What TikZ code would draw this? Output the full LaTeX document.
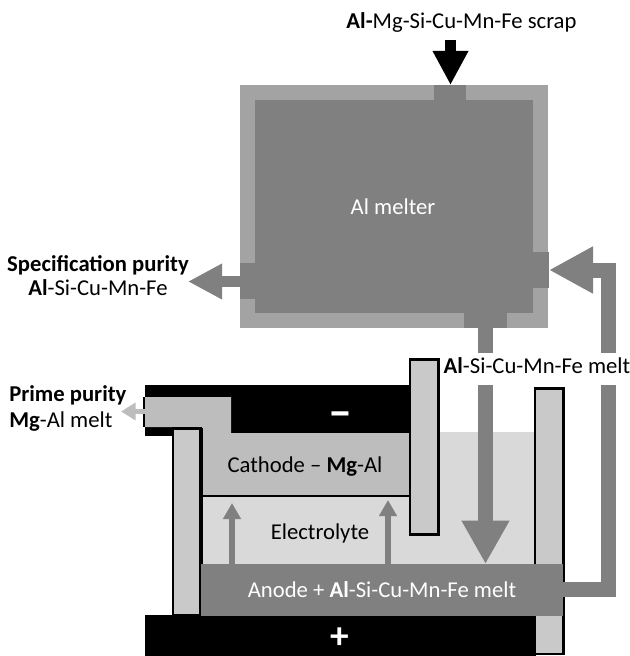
\documentclass[tikz,border=0pt]{standalone}
\usepackage{fontspec}
\setmainfont{Carlito}
\usetikzlibrary{arrows.meta}
\definecolor{melt}{gray}{0.50}
\definecolor{wall}{gray}{0.64}
\definecolor{cath}{gray}{0.74}
\definecolor{barg}{gray}{0.79}
\definecolor{elec}{gray}{0.85}
\tikzset{
  x=0.75pt,y=-0.75pt,
  lbl/.style={anchor=base,inner sep=0pt,font=\fontsize{17}{20}\selectfont},
  lblw/.style={lbl,text=white},
  barbox/.style={fill=barg,draw=black,line width=1.6pt,miter limit=10},
  flow/.style={draw=melt,line width=11.25pt,line cap=butt},
  bigtip/.style={-{Triangle[length=32.6pt,width=33.7pt]}},
  retip/.style={-{Triangle[length=33pt,width=33pt]}},
  lefttip/.style={-{Triangle[length=25.5pt,width=25pt]}},
  smallup/.style={draw=melt,line width=4.4pt,-{Triangle[length=12pt,width=12.8pt]}},
}
\begin{document}
\begin{tikzpicture}
\useasboundingbox (0,0) rectangle (630,656);
% named points for the flows
\coordinate (scrapS) at (450.5,40);
\coordinate (scrapE) at (450.5,85);
\coordinate (outS) at (240,281.5);
\coordinate (outE) at (188,281.5);
\coordinate (meltA) at (485.5,328);
\coordinate (meltB) at (485.5,353);
\coordinate (meltC) at (485.5,385);
\coordinate (meltD) at (485.5,564);
\coordinate (retA) at (563,589.5);
\coordinate (retB) at (608,589.5);
\coordinate (retC) at (608,385);
\coordinate (retD) at (608,353);
\coordinate (retE) at (608,270);
\coordinate (retF) at (549,270);
\coordinate (ionAS) at (232,564);
\coordinate (ionAE) at (232,503);
\coordinate (ionBS) at (388,564);
\coordinate (ionBE) at (388,500);
\coordinate (primeS) at (145,411.5);
\coordinate (primeE) at (121,411.5);
% melter
\fill[wall] (240,85) rectangle (548,328);
\fill[melt] (255,100) rectangle (533,313);
\fill[melt] (434,85) rectangle (466,100);
\fill[melt] (240,263) rectangle (255,299);
\fill[melt] (533,252) rectangle (549,288);
\fill[melt] (464,313) rectangle (507,328);
% cell: electrolyte
\fill[elec] (203,496) rectangle (534,565);
\fill[elec] (439,432) rectangle (534,565);
% black collectors
\fill[black] (145,385) rectangle (410,433);
\fill[black] (145,385) rectangle (172,436);
\fill[black] (145,615) rectangle (536,656);
% cathode
\fill[cath] (144,397) -- (231,397) -- (231,433) -- (409,433) -- (409,496) -- (201,496) -- (201,427) -- (144,427) -- cycle;
\draw[black,line width=1pt] (144,397) -- (144,427);
\draw[black,line width=1.1pt] (201,496) -- (409,496);
\draw[black,line width=1.6pt] (202,428) -- (202,565);
% bars
\draw[barbox] (173,428.5) rectangle (200.5,615);
\draw[barbox] (410,359.5) rectangle (438.5,534.5);
\draw[barbox] (535,388.5) rectangle (563.5,654);
% anode
\fill[melt] (201,564) rectangle (563,616);
% flows
\draw[draw=black,line width=8.25pt,-{Triangle[length=25.5pt,width=25pt]}] (scrapS) -- (scrapE);
\draw[flow,line width=8.25pt,lefttip] (outS) -- (outE);
\draw[flow] (meltA) -- (meltB);
\draw[flow,bigtip] (meltC) -- (meltD);
\draw[flow] (retA) -- (retB) -- (retC);
\draw[flow,retip] (retD) -- (retE) -- (retF);
\draw[smallup] (ionAS) -- (ionAE);
\draw[smallup] (ionBS) -- (ionBE);
\draw[draw=cath,line width=3.8pt,-{Triangle[length=11pt,width=12.8pt]}] (primeS) -- (primeE);
% labels
\node[lbl] (scrap) at (461.5,29) {\textbf{Al-}Mg-Si-Cu-Mn-Fe scrap};
\node[lblw] (melter) at (393,214) {Al melter};
\node[lbl] (spec) at (98,271) {\textbf{Specification purity}};
\node[lbl] (spec2) at (98,295) {\textbf{Al}-Si-Cu-Mn-Fe};
\node[lbl] (meltlab) at (537,373) {\textbf{Al}-Si-Cu-Mn-Fe melt};
\node[lbl,anchor=base west] (prime) at (9,401) {\textbf{Prime purity}};
\node[lbl,anchor=base west] (prime2) at (9,427) {\textbf{Mg}-Al melt};
\node[lbl] (cathode) at (305,472) {Cathode – \textbf{Mg}-Al};
\node[lbl] (electrolyte) at (320,539) {Electrolyte};
\node[lblw] (anode) at (382,597) {Anode + \textbf{Al}-Si-Cu-Mn-Fe melt};
\node[lblw,font=\fontsize{36}{40}\selectfont\bfseries] (minus) at (340,427) {–};
\node[lblw,font=\fontsize{28}{32}\selectfont\bfseries] (plus) at (340,648) {+};
\end{tikzpicture}
\end{document}
